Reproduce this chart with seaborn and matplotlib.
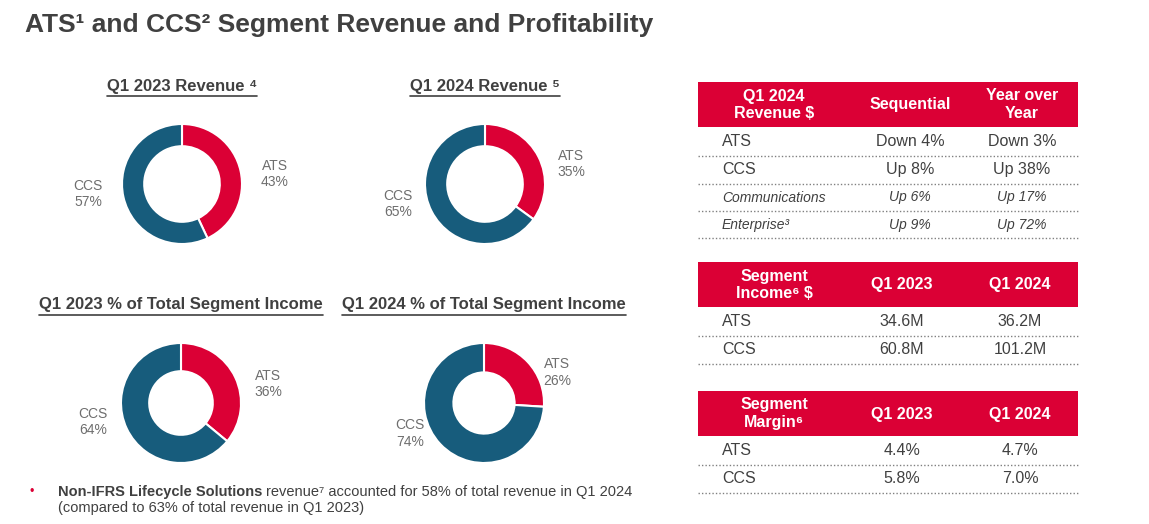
import matplotlib
matplotlib.use("Agg")
import matplotlib.pyplot as plt
import seaborn as sns
from matplotlib.lines import Line2D
from matplotlib.patches import Rectangle

# data
segments = ["ATS", "CCS"]
rev_2023 = [43, 57]
rev_2024 = [35, 65]
inc_2023 = [36, 64]
inc_2024 = [26, 74]

rev_header = ["Q1 2024\nRevenue $", "Sequential", "Year over\nYear"]
rev_rows = ["ATS", "CCS", "Communications", "Enterprise³"]
rev_seq = ["Down 4%", "Up 8%", "Up 6%", "Up 9%"]
rev_yoy = ["Down 3%", "Up 38%", "Up 17%", "Up 72%"]

inc_header = ["Segment\nIncome⁶ $", "Q1 2023", "Q1 2024"]
inc_q1_23 = ["34.6M", "60.8M"]
inc_q1_24 = ["36.2M", "101.2M"]

mar_header = ["Segment\nMargin⁶", "Q1 2023", "Q1 2024"]
mar_q1_23 = ["4.4%", "5.8%"]
mar_q1_24 = ["4.7%", "7.0%"]

sns.set_theme(style="white")
plt.rcParams["font.family"] = ["Liberation Sans", "DejaVu Sans"]

RED = "#DB0035"
BLUE = "#175C7C"
DARK = "#404040"
GREY = "#6E6E6E"
colors = sns.color_palette([RED, BLUE])

W, H = 1149, 524
fig = plt.figure(figsize=(W / 100, H / 100), dpi=100)
fig.patch.set_facecolor("white")


def fx(x):
    return x / W


def fy(y):
    return 1 - y / H


def ftext(x, y, s, **kw):
    return fig.text(fx(x), fy(y), s, **kw)


renderer = fig.canvas.get_renderer()


def underline(t, gap=2):
    bb = t.get_window_extent(renderer=renderer)
    y = bb.y0 - gap
    fig.add_artist(Line2D([bb.x0 / W, bb.x1 / W], [y / H, y / H],
                          color=DARK, lw=1.2, transform=fig.transFigure))


# title
ftext(25, 25, "ATS¹ and CCS² Segment Revenue and Profitability",
      fontsize=19, fontweight="bold", color=DARK, va="center", ha="left")


def donut(cx, cy, values, hole, title):
    R = 60
    ax = fig.add_axes([fx(cx - R), fy(cy + R), 2 * R / W, 2 * R / H])
    labels = [f"{s}\n{v}%" for s, v in zip(segments, values)]
    wedges, texts = ax.pie(values, labels=labels, colors=colors,
                           startangle=90, counterclock=False,
                           labeldistance=1.35, radius=1,
                           wedgeprops=dict(width=1 - hole, edgecolor="white", linewidth=1.5),
                           textprops=dict(fontsize=10, color=GREY))
    for t in texts:
        x, y = t.get_position()
        t.set_position((x, y * 0.55))
        t.set_multialignment("center")
        t.set_va("center")
    ax.set_xlim(-1, 1)
    ax.set_ylim(-1, 1)
    ax.axis("off")
    t = ftext(cx, cy - 98, title, fontsize=12, fontweight="bold", color=DARK,
              ha="center", va="center")
    underline(t)


donut(182, 184, rev_2023, 0.63, "Q1 2023 Revenue ⁴")
donut(485, 184, rev_2024, 0.63, "Q1 2024 Revenue ⁵")
donut(181, 403, inc_2023, 0.53, "Q1 2023 % of Total Segment Income")
donut(484, 403, inc_2024, 0.51, "Q1 2024 % of Total Segment Income")

# tables
X0, X1 = 698, 1078
C0 = 774


def table(top, header, col1, col2, col3, italic_from=99, c1=906, c2=1020):
    fig.add_artist(Rectangle((fx(X0), fy(top + 45)), (X1 - X0) / W, 45 / H,
                             facecolor=RED, edgecolor="none", transform=fig.transFigure))
    for x, s in zip([C0, c1, c2], header):
        ftext(x, top + 23, s, fontsize=11.5, fontweight="bold", color="white",
              ha="center", va="center", linespacing=1.25)
    y = top + 45
    for i, (a, b, c) in enumerate(zip(col1, col2, col3)):
        it = i >= italic_from
        h = 27 if it else 28.5
        style = dict(fontsize=10 if it else 11.5, color=DARK, va="center",
                     fontstyle="italic" if it else "normal")
        ftext(722, y + h / 2, a, ha="left", **style)
        ftext(c1, y + h / 2, b, ha="center", **style)
        ftext(c2, y + h / 2, c, ha="center", **style)
        y += h
        fig.add_artist(Line2D([fx(X0), fx(X1)], [fy(y), fy(y)], color="#808080",
                              lw=1.0, ls=(0, (1, 1.5)), transform=fig.transFigure))


table(82, rev_header, rev_rows, rev_seq, rev_yoy, italic_from=2, c1=910, c2=1022)
table(262, inc_header, segments, inc_q1_23, inc_q1_24, c1=902, c2=1020)
table(391, mar_header, segments, mar_q1_23, mar_q1_24, c1=902, c2=1020)

# footnote
ftext(30, 492, "•", fontsize=9, color=RED, ha="left", va="center")
b = ftext(58, 492, "Non-IFRS Lifecycle Solutions", fontsize=10.5, fontweight="bold",
          color=DARK, ha="left", va="center")
bb = b.get_window_extent(renderer=renderer)
fig.text(bb.x1 / W + 4 / W, fy(492), "revenue⁷ accounted for 58% of total revenue in Q1 2024",
         fontsize=10.5, color=DARK, ha="left", va="center")
ftext(58, 508, "(compared to 63% of total revenue in Q1 2023)", fontsize=10.5,
      color=DARK, ha="left", va="center")

fig.savefig("out.png", dpi=100, facecolor="white")
